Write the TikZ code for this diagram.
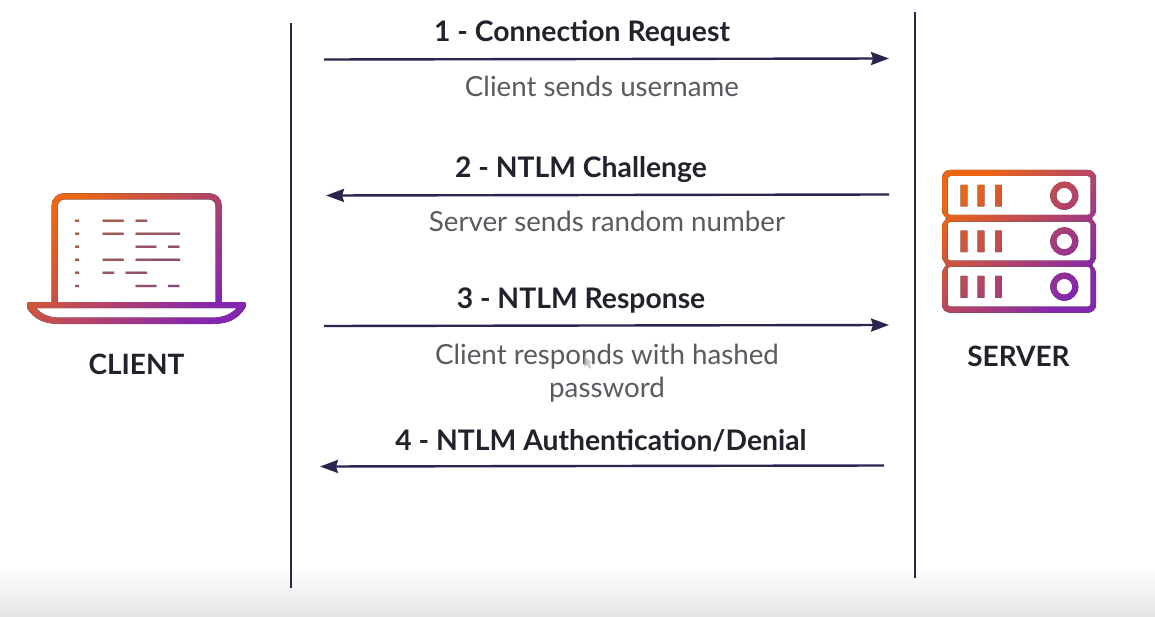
\documentclass[tikz,border=0pt]{standalone}
\usepackage{fontspec}
\setsansfont{Lato}
\usetikzlibrary{arrows.meta}
\definecolor{navy}{HTML}{2B2650}
\definecolor{inkdark}{HTML}{22222C}
\definecolor{inkgrey}{HTML}{5A5A60}
\definecolor{iconorange}{HTML}{EC6613}
\definecolor{iconpurple}{HTML}{8526B0}
\tikzset{
  lifeline/.style={navy,line width=2.6pt},
  msg/.style={navy,line width=2.4pt,-{Stealth[length=18pt,width=13pt,inset=2pt]}},
  steplabel/.style={font=\sffamily\bfseries\fontsize{28.3}{34}\selectfont,text=inkdark,inner sep=0pt},
  noteline/.style={font=\sffamily\fontsize{27.7}{33}\selectfont,text=inkgrey,align=center,inner sep=0pt},
  iconlabel/.style={font=\sffamily\bfseries\fontsize{28}{34}\selectfont,text=inkdark,inner sep=0pt},
  iconshade/.style={left color=iconorange,right color=iconpurple,shading angle=45},
}
\begin{document}
\begin{tikzpicture}[x=1pt,y=-1pt]
\useasboundingbox (0,0) rectangle (1155,617);
\fill[white] (0,0) rectangle (1155,617);
\shade[top color=white,bottom color=black!10,draw=none] (0,565) rectangle (1155,617);

% lifelines
\coordinate (clientTop) at (291,23);
\coordinate (clientEnd) at (291,588);
\coordinate (serverTop) at (915,12);
\coordinate (serverEnd) at (915,578);
\draw[lifeline] (clientTop)--(clientEnd);
\draw[lifeline] (serverTop)--(serverEnd);

% messages
\coordinate (a1) at (324,59.5);  \coordinate (b1) at (889,58.5);
\coordinate (a2) at (889,194.5); \coordinate (b2) at (326,195.5);
\coordinate (a3) at (324,326);   \coordinate (b3) at (889,325);
\coordinate (a4) at (884,465.5); \coordinate (b4) at (320,466.5);
\foreach \i in {1,2,3,4}{\draw[msg] (a\i)--(b\i);}

\node[steplabel] (step1) at (582,33.5) {1 - Connection Request};
\node[noteline] (note1) at (602,86) {Client sends username};
\node[steplabel] (step2) at (581,169.5) {2 - NTLM Challenge};
\node[noteline] (note2) at (607,221) {Server sends random number};
\node[steplabel] (step3) at (581,300.5) {3 - NTLM Response};
\node[noteline] (note3) at (607,373.5) {Client responds with hashed\\password};
\node[steplabel] (step4) at (601,441) {4 - NTLM Authentication/Denial};
\fill[black!35,opacity=.6] (584,356)--(584,367)--(587,365)--(590,369)--(591,367)--(589,363.5)--(592,363)--cycle;

% laptop
\begin{scope}[even odd rule]
\clip (51.7,303)[rounded corners=12pt]--(51.7,193.3)--(221.7,193.3)[sharp corners]--(221.7,303)--(215.7,303)[rounded corners=7pt]--(215.7,199.3)--(57.7,199.3)[sharp corners]--(57.7,303)--cycle;
\fill[iconshade] (27,193) rectangle (246,324);
\end{scope}
\begin{scope}[even odd rule]
\clip (30,302)--(243,302) .. controls (247,302) and (247,305) .. (245,308) .. controls (238,319) and (228,324) .. (212,324)--(60,324) .. controls (44,324) and (34,319) .. (27,308) .. controls (26,305) and (26,302) .. (30,302)--cycle
 (36,308)--(237,308) .. controls (230,315) and (222,317.7) .. (212,317.7)--(60,317.7) .. controls (50,317.7) and (42,315) .. (36,308)--cycle;
\fill[iconshade] (27,193) rectangle (246,324);
\end{scope}
\begin{scope}[opacity=.6]
\clip \foreach \x/\y/\w in {75/220.7/4,75/233.7/4,75/246.7/4,75/259.7/4,75/272.7/4,75/286/4,
  102.7/220.7/21,135.7/220.7/11.5,102.7/233.7/21,135.7/233.7/44.5,135.7/246.7/20.6,168/246.7/11.3,
  102.7/259.7/21,135.7/259.7/44.5,102.7/272.7/11.3,125.7/272.7/21.5,135.7/286/20.6,168/286/11.3}
  {(\x,\y-1.1) rectangle ++(\w,2.2)};
\fill[iconshade] (27,193) rectangle (246,324);
\end{scope}
\node[iconlabel] (client) at (136.5,364) {CLIENT};

% server
\begin{scope}[even odd rule,rounded corners=8pt]
\clip (942,170)--(1096,170)--(1096,218) [sharp corners]--(1093,218.5)[rounded corners=8pt]--(1096,219)--(1096,264)[sharp corners]--(1093,265)[rounded corners=8pt]--(1096,266)--(1096,312.7)--(942,312.7)--(942,266)[sharp corners]--(945,265)[rounded corners=8pt]--(942,264)--(942,219)[sharp corners]--(945,218.5)[rounded corners=8pt]--(942,218)--cycle
 [rounded corners=3pt] (947.5,176) rectangle (1090.7,215)
 (947.5,221.7) rectangle (1090.7,260.7)
 (947.5,266.7) rectangle (1090.7,306.7)
 [sharp corners] \foreach \y in {185,230.7,276}{
   (960.7,\y) rectangle ++(6.6,21.5)
   (977.7,\y) rectangle ++(6.6,21.5)
   (995,\y) rectangle ++(6.6,21.5)
   (1064.3,\y+10.7) circle (14pt)
   (1064.3,\y+10.7) circle (8pt)};
\fill[iconshade] (942,170) rectangle (1096,313);
\end{scope}
\node[iconlabel] (server) at (1018.5,356) {SERVER};
\end{tikzpicture}
\end{document}
